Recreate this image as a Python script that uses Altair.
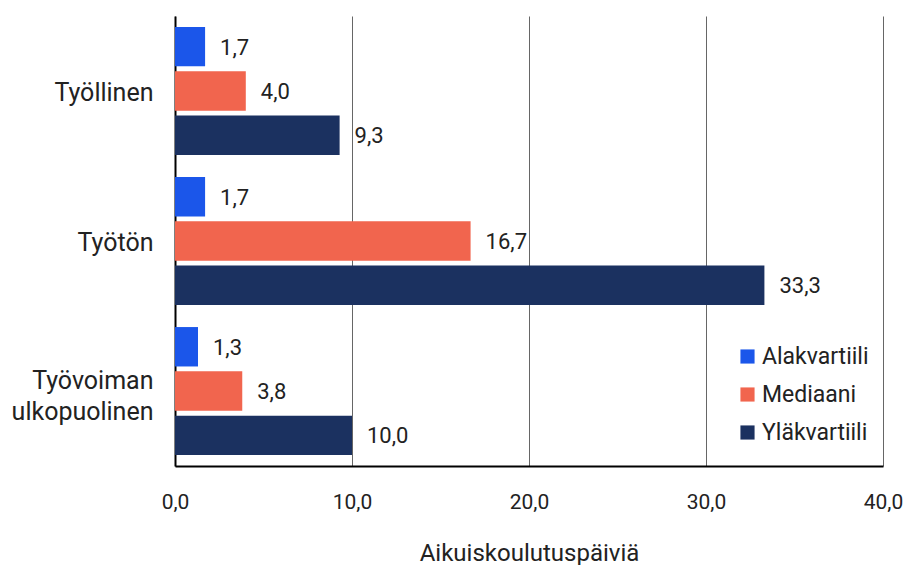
import altair as alt
import pandas as pd

categories = ["Työllinen", "Työtön", "Työvoiman\nulkopuolinen"]
series = ["Alakvartiili", "Mediaani", "Yläkvartiili"]
alakvartiili = [1.7, 1.7, 1.3]
mediaani = [4.0, 16.7, 3.8]
ylakvartiili = [9.3, 33.3, 10.0]
colors = ["#1B56EA", "#F1654E", "#1B3160"]

rows = []
for i, c in enumerate(categories):
    for s, vals in zip(series, [alakvartiili, mediaani, ylakvartiili]):
        rows.append({"cat": c, "series": s, "value": vals[i]})
df = pd.DataFrame(rows)

FONT = "Roboto"

y_enc = alt.Y("cat:N", sort=categories, title=None,
              scale=alt.Scale(paddingInner=0.147, paddingOuter=0.073),
              axis=alt.Axis(labelExpr="split(datum.value, '\\n')", labelFontSize=25,
                            labelColor="#222", labelFont=FONT, ticks=False,
                            labelPadding=22, domainColor="#000", domainWidth=2,
                            minExtent=167, maxExtent=167, labelLineHeight=31,
                            labelOffset={"condition": {"test": "indexof(datum.value, '\\n') >= 0", "value": -10}, "value": 2},
                            grid=False))
yoff = alt.YOffset("series:N", sort=series, scale=alt.Scale(paddingInner=0.11, paddingOuter=0))
x_enc = alt.X("value:Q", title="Aikuiskoulutuspäiviä",
              scale=alt.Scale(domain=[0, 40], nice=False),
              axis=alt.Axis(values=[0, 10, 20, 30, 40],
                            labelExpr="replace(format(datum.value, '.1f'), '.', ',')",
                            labelFontSize=21, labelColor="#222", labelFont=FONT,
                            labelFlush=False,
                            ticks=False, labelPadding=25, domainColor="#000", domainWidth=2,
                            gridColor="#666", gridWidth=1, titleFontSize=24,
                            titleFont=FONT, titleFontWeight="normal", titleColor="#222",
                            titlePadding=29))

bars = alt.Chart(df).mark_bar().encode(
    y=y_enc, yOffset=yoff, x=x_enc,
    color=alt.Color("series:N", sort=series,
                    scale=alt.Scale(domain=series, range=colors),
                    legend=alt.Legend(title=None, orient="none", legendX=561, legendY=329,
                                      symbolType="square", symbolSize=200,
                                      labelFontSize=23, labelFont=FONT, labelColor="#222",
                                      rowPadding=14, symbolStrokeWidth=0, padding=0,
                                      labelOffset=3)),
)

labels = alt.Chart(df).transform_calculate(
    lab="replace(format(datum.value, '.1f'), '.', ',')"
).mark_text(align="left", baseline="middle", dx=15, dy=1, fontSize=22,
            font=FONT, color="#222").encode(
    y=alt.Y("cat:N", sort=categories), yOffset=alt.YOffset("series:N", sort=series),
    x=alt.X("value:Q"), text="lab:N")

chart = alt.layer(bars, labels).properties(
    width=708, height=450,
    padding={"top": 8, "left": 0, "right": 0, "bottom": 0},
).configure_view(stroke=None).configure_axisY(grid=False)

chart.save("out.html", embed_options={"renderer": "svg", "actions": False})
